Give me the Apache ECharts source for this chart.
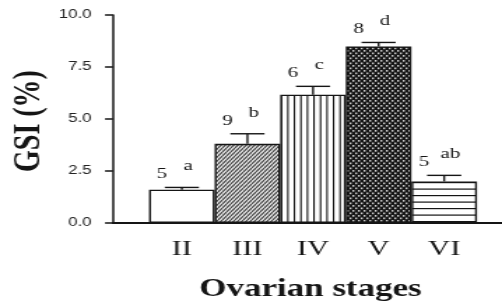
<!DOCTYPE html>
<html>
<head>
<meta charset="utf-8">
<script src="https://cdn.jsdelivr.net/npm/echarts@6/dist/echarts.min.js"></script>
<style>
  html, body { margin: 0; padding: 0; background: #fff; overflow: hidden; }
  /* the source figure is stretched sideways, so the chart is drawn narrow and scaled */
  #chart { width: 359px; height: 304px; transform: scaleX(1.3983); transform-origin: 0 0; }
</style>
</head>
<body>
<div id="chart"></div>
<script>
const stages = ['II', 'III', 'IV', 'V', 'VI']
const gsiMean = [1.6, 3.81, 6.17, 8.49, 2.0]
const gsiSem = [0.11, 0.48, 0.4, 0.19, 0.29]
const sampleSize = [5, 9, 6, 8, 5]
const letters = ['a', 'b', 'c', 'd', 'ab']
const yMin = 0
const yMax = 10
const yStep = 2.5

const ink = '#151515'
const serif = '"Liberation Serif", "Times New Roman", serif'
const sans = '"Liberation Sans", Arial, sans-serif'

const makePattern = (w, h, draw) => {
  const c = document.createElement('canvas')
  c.width = w
  c.height = h
  draw(c.getContext('2d'), w, h)
  return { image: c, repeat: 'repeat' }
}

// fills, one per stage
const fills = [
  '#ffffff',
  makePattern(3, 4, (g, w, h) => {
    g.fillStyle = '#eeeeee'
    g.fillRect(0, 0, w, h)
    g.strokeStyle = '#3a3a3a'
    g.lineWidth = 1.1
    for (let k = -1; k <= 1; k++) {
      g.beginPath()
      g.moveTo(k * w, h)
      g.lineTo(k * w + w, 0)
      g.stroke()
    }
  }),
  makePattern(14, 4, (g, w, h) => {
    g.fillStyle = '#fff'
    g.fillRect(0, 0, w, h)
    g.fillStyle = ink
    ;[0, 4.67, 9.33].forEach(x => g.fillRect(x, 0, 1.1, h))
  }),
  makePattern(4, 5, (g, w, h) => {
    g.fillStyle = '#161616'
    g.fillRect(0, 0, w, h)
    g.fillStyle = '#d0d0d0'
    g.fillRect(0, 0, 1.4, 1.7)
    g.fillRect(2, 2.5, 1.4, 1.7)
  }),
  makePattern(4, 13, (g, w, h) => {
    g.fillStyle = '#fff'
    g.fillRect(0, 0, w, h)
    g.fillStyle = ink
    g.fillRect(0, 0, w, 1.2)
    g.fillRect(0, 6.5, w, 1.2)
  })
]

const chart = echarts.init(document.getElementById('chart'), null, { renderer: 'canvas' })

const errorBars = (params, api) => {
  const i = params.dataIndex
  const base = api.coord([api.value(0), api.value(1)])
  const top = api.coord([api.value(0), api.value(2)])
  const cx = base[0]
  const lineStyle = { stroke: ink, lineWidth: 1.4 }
  return {
    type: 'group',
    children: [
      { type: 'line', shape: { x1: cx, y1: base[1], x2: cx, y2: top[1] }, style: lineStyle },
      { type: 'line', shape: { x1: cx - 12.2, y1: top[1], x2: cx + 12.2, y2: top[1] }, style: lineStyle },
      {
        type: 'text',
        x: cx - 14.3,
        y: top[1] - 13,
        style: { text: String(sampleSize[i]), font: '15px ' + serif, fill: ink, align: 'center', verticalAlign: 'middle' }
      },
      {
        type: 'text',
        x: cx + 4.5,
        y: top[1] - 21,
        style: { text: letters[i], font: '15px ' + serif, fill: ink, align: 'center', verticalAlign: 'middle' }
      }
    ]
  }
}

const option = {
  animation: false,
  backgroundColor: '#fff',
  grid: [
    { left: 80.8, right: 0, top: 15, bottom: 81 },
    { left: 106.6, right: 17.9, top: 15, bottom: 81 }
  ],
  xAxis: [
    {
      gridIndex: 0,
      type: 'value',
      min: 0,
      max: 1,
      axisLine: { show: true, lineStyle: { color: ink, width: 2 } },
      axisTick: { show: false },
      axisLabel: { show: false },
      splitLine: { show: false }
    },
    {
      gridIndex: 1,
      type: 'category',
      data: stages,
      boundaryGap: true,
      axisLine: { show: false },
      axisTick: { show: false },
      axisLabel: { color: ink, fontFamily: serif, fontSize: 22, margin: 15 }
    }
  ],
  yAxis: [
    {
      gridIndex: 0,
      type: 'value',
      min: yMin,
      max: yMax,
      interval: yStep,
      axisLine: { show: true, lineStyle: { color: ink, width: 1.5 } },
      axisTick: { show: true, length: 5.7, lineStyle: { color: ink, width: 1.5 } },
      axisLabel: {
        color: '#222',
        fontFamily: sans,
        fontSize: 12,
        margin: 15.4,
        formatter: v => v.toFixed(1)
      },
      splitLine: { show: false }
    },
    {
      gridIndex: 1,
      type: 'value',
      min: yMin,
      max: yMax,
      show: false
    }
  ],
  series: [
    {
      type: 'bar',
      xAxisIndex: 1,
      yAxisIndex: 1,
      barWidth: '100%',
      data: gsiMean.map((v, i) => ({
        value: v,
        itemStyle: { color: fills[i], borderColor: ink, borderWidth: 1.4 }
      }))
    },
    {
      type: 'custom',
      xAxisIndex: 1,
      yAxisIndex: 1,
      z: 5,
      renderItem: errorBars,
      data: gsiMean.map((v, i) => [i, v, v + gsiSem[i]])
    }
  ],
  graphic: [
    {
      type: 'text',
      x: 20.7,
      y: 121,
      rotation: Math.PI / 2,
      style: { text: 'GSI (%)', font: 'bold 28px ' + serif, fill: ink, align: 'center', verticalAlign: 'middle' }
    },
    {
      type: 'text',
      x: 222,
      y: 290,
      style: { text: 'Ovarian stages', font: 'bold 25px ' + serif, fill: ink, align: 'center', verticalAlign: 'middle' }
    }
  ]
}

chart.setOption(option, true)
</script>
</body>
</html>
